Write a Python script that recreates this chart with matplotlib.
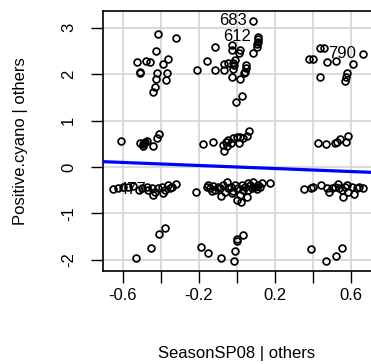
import matplotlib
matplotlib.use("Agg")
import matplotlib.pyplot as plt

plt.rcParams['font.family'] = ['Liberation Sans', 'DejaVu Sans']

# added-variable plot: SeasonSP08 | others vs Positive.cyano | others
# upper band (~2)
up_x = [-0.414, -0.323, -0.426, -0.528, -0.479, -0.458, -0.362, -0.391, -0.511, -0.509,
        -0.419, -0.370, -0.426, -0.374, -0.432, -0.441,
        0.086, 0.112, 0.110, 0.108, 0.106, 0.104, -0.117, -0.028, -0.028, 0.016, 0.012,
        0.086, -0.156, -0.209, -0.116, -0.068, -0.068, -0.046, -0.023, -0.011, -0.014,
        -0.019, 0.047, 0.047, 0.042, 0.037, -0.028, 0.016, 0.025, -0.005,
        0.437, 0.460, 0.665, 0.381, 0.398, 0.472, 0.519, 0.609, 0.437, 0.577, 0.574, 0.570]
up_y = [2.86, 2.77, 2.50, 2.27, 2.28, 2.27, 2.32, 2.22, 2.05, 2.02,
        2.02, 2.02, 1.89, 1.875, 1.72, 1.61,
        3.15, 2.81, 2.75, 2.70, 2.64, 2.59, 2.58, 2.63, 2.52, 2.52, 2.45,
        2.46, 2.28, 2.09, 2.08, 2.22, 2.09, 2.23, 2.25, 2.31, 2.20,
        2.11, 2.20, 2.13, 2.05, 2.02, 1.93, 1.90, 1.53, 1.39,
        2.56, 2.56, 2.44, 2.32, 2.32, 2.26, 2.28, 2.22, 1.93, 2.02, 1.93, 1.85]

# band around 0.5
m1_x = [-0.612, -0.511, -0.496, -0.484, -0.475, -0.493, -0.490, -0.440, -0.419, -0.409,
        -0.177, -0.128, -0.072, -0.068, -0.058, -0.046, -0.033, -0.019, -0.002, 0.016,
        0.012, 0.030, 0.051, 0.065, -0.054,
        0.428, 0.468, 0.516, 0.525, 0.542, 0.574, 0.586]
m1_y = [0.57, 0.52, 0.49, 0.545, 0.57, 0.45, 0.51, 0.45, 0.62, 0.71,
        0.50, 0.545, 0.47, 0.35, 0.545, 0.58, 0.51, 0.62, 0.64, 0.64,
        0.51, 0.62, 0.67, 0.78, 0.45,
        0.51, 0.49, 0.51, 0.545, 0.60, 0.545, 0.67]

# band around -0.5
m2_x = [-0.651, -0.625, -0.598, -0.572, -0.546, -0.514, -0.502, -0.475, -0.467, -0.449,
        -0.440, -0.432, -0.414, -0.396, -0.388, -0.379, -0.361, -0.353, -0.344, -0.321,
        -0.216, -0.160, -0.142, -0.125, -0.116, -0.098, -0.086, -0.072, -0.054, -0.046,
        -0.033, -0.019, -0.011, -0.002, 0.007, 0.019, 0.025, 0.033, 0.042, 0.051,
        0.060, 0.068, 0.083, 0.095, 0.112, 0.130, 0.174, -0.028, -0.063, 0.016,
        -0.089, -0.133, 0.077, 0.060, 0.104, 0.121, -0.151,
        0.353, 0.388, 0.402, 0.441, 0.475, 0.483, 0.498, 0.516, 0.533, 0.538,
        0.551, 0.559, 0.568, 0.581, 0.586, 0.604, 0.616, 0.630, 0.644, 0.665]
m2_y = [-0.48, -0.46, -0.42, -0.42, -0.41, -0.50, -0.46, -0.42, -0.50, -0.46,
        -0.60, -0.53, -0.46, -0.42, -0.57, -0.50, -0.39, -0.46, -0.42, -0.37,
        -0.53, -0.42, -0.46, -0.41, -0.50, -0.42, -0.62, -0.39, -0.32, -0.46,
        -0.42, -0.51, -0.39, -0.70, -0.46, -0.75, -0.39, -0.50, -0.42, -0.64,
        -0.50, -0.39, -0.32, -0.42, -0.39, -0.35, -0.34, -0.57, -0.53, -0.60,
        -0.46, -0.51, -0.46, -0.35, -0.48, -0.42, -0.39,
        -0.48, -0.45, -0.42, -0.39, -0.46, -0.53, -0.46, -0.42, -0.37, -0.46,
        -0.50, -0.65, -0.42, -0.39, -0.53, -0.42, -0.58, -0.46, -0.42, -0.46]

# lower band (~-1.8)
lo_x = [-0.532, -0.451, -0.411, -0.379, -0.191, -0.153, -0.086, -0.017, -0.012, -0.002,
        0.002, 0.030, 0.388, 0.467, 0.521, 0.551]
lo_y = [-1.97, -1.74, -1.45, -1.31, -1.73, -1.85, -1.95, -2.02, -1.80, -1.59,
        -1.56, -1.47, -1.76, -2.03, -1.92, -1.74]

# labelled points
lab_names = ['683', '612', '790', '477']
lab_x = [0.086, 0.112, 0.665, -0.651]
lab_y = [3.15, 2.81, 2.44, -0.48]
lab_side = ['left', 'left', 'left', 'right']

slope = -0.163
intercept = 0.0

xticks = [-0.6, -0.4, -0.2, 0.0, 0.2, 0.4, 0.6]
xticklabels = ['-0.6', '', '-0.2', '', '0.2', '', '0.6']
yticks = [-2, -1, 0, 1, 2, 3]

fig = plt.figure(figsize=(3.71, 3.64), dpi=100)
ax = fig.add_axes([103/371, 1 - 271/364, (371 - 103)/371, (271 - 11)/364])
xlim = (-0.705, 0.705)
ax.set_xlim(*xlim)
ax.set_ylim(-2.24, 3.36)

for t in xticks:
    ax.axvline(t, color='#d3d3d3', lw=1.2, zorder=0)
for t in yticks:
    ax.axhline(t, color='#d3d3d3', lw=1.2, zorder=0)

for xs, ys in [(up_x, up_y), (m1_x, m1_y), (m2_x, m2_y), (lo_x, lo_y)]:
    ax.plot(xs, ys, 'o', mfc='none', mec='black', ms=4.9, mew=1.25, zorder=3)

ax.plot(xlim, [intercept + slope*xlim[0], intercept + slope*xlim[1]],
        color='#0000ff', lw=2.3, zorder=4, solid_capstyle='butt')

for name, x, y, side in zip(lab_names, lab_x, lab_y, lab_side):
    if side == 'left':
        ax.annotate(name, (x, y), xytext=(-5, 0), textcoords='offset points',
                    ha='right', va='center', fontsize=12, zorder=5)
    else:
        ax.annotate(name, (x, y), xytext=(4, 0), textcoords='offset points',
                    ha='left', va='center', fontsize=12, zorder=5)

ax.set_xticks(xticks)
ax.set_xticklabels(xticklabels)
ax.set_yticks(yticks)
ax.set_yticklabels([str(v) for v in yticks], rotation=90, va='center')
ax.tick_params(length=8.4, width=1.0, labelsize=12)
ax.tick_params(axis='x', pad=4)
ax.tick_params(axis='y', pad=11)
for s in ['left', 'bottom', 'top']:
    ax.spines[s].set_linewidth(1.2)
ax.spines['right'].set_visible(False)

ax.set_xlabel('SeasonSP08 | others', fontsize=12, labelpad=31)
ax.set_ylabel('Positive.cyano | others', fontsize=12, labelpad=24)

fig.savefig('out.png', dpi=100)
